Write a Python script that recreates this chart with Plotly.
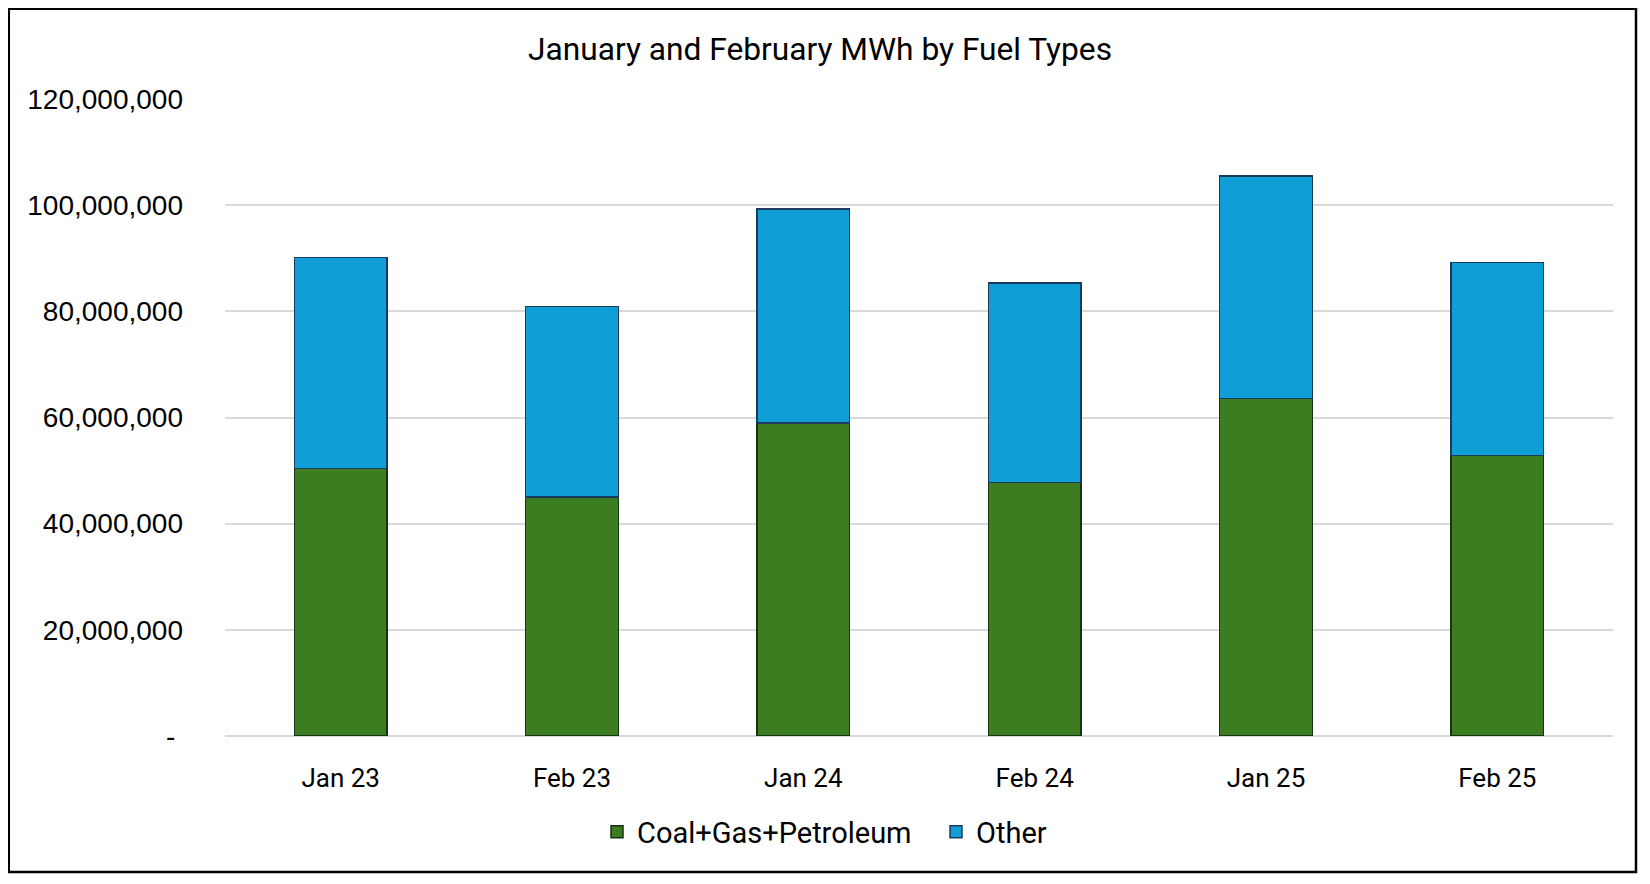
import plotly.graph_objects as go

categories = ["Jan 23", "Feb 23", "Jan 24", "Feb 24", "Jan 25", "Feb 25"]
coal_gas_petroleum = [50_400_000, 45_050_000, 59_000_000, 47_750_000, 63_600_000, 52_850_000]
other = [39_750_000, 35_850_000, 40_250_000, 37_600_000, 41_900_000, 36_350_000]
y_tickvals = [0, 20_000_000, 40_000_000, 60_000_000, 80_000_000, 100_000_000, 120_000_000]
y_ticktext = ["-\u00a0", "20,000,000", "40,000,000", "60,000,000", "80,000,000", "100,000,000", "120,000,000"]

GREEN = "#3C7D22"
BLUE = "#0F9ED5"

fig = go.Figure()
fig.add_trace(go.Bar(
    x=categories, y=coal_gas_petroleum, name="Coal+Gas+Petroleum",
    marker=dict(color=GREEN, line=dict(color="#173410", width=1.5)),
    width=0.4,
))
fig.add_trace(go.Bar(
    x=categories, y=other, name="Other",
    marker=dict(color=BLUE, line=dict(color="#1B3A5E", width=1.5)),
    width=0.4,
))

W, H = 1650, 884
# page body offsets the figure by 8px; positions below are figure-relative
L, R, T, B = 217, 45, 91, 156
pw, ph = W - L - R, H - T - B

fig.update_layout(
    width=W, height=H,
    barmode="stack",
    plot_bgcolor="white", paper_bgcolor="white",
    margin=dict(l=L, r=R, t=T, b=B, pad=0),
    title=dict(
        text="January and February MWh by Fuel Types",
        x=812 / W, xref="container", xanchor="center",
        y=1 - 40.5 / H, yref="container", yanchor="middle",
        font=dict(family="Roboto, sans-serif", size=31.7, color="#000000"),
    ),
    showlegend=True,
    legend=dict(
        orientation="h", traceorder="normal",
        x=928 / W, xref="container", xanchor="center",
        y=1 - 824 / H, yref="container", yanchor="middle",
        font=dict(family="Roboto, sans-serif", size=29, color="#000000"),
        itemwidth=30,
        entrywidth=294, entrywidthmode="pixels",
    ),
    xaxis=dict(
        showgrid=False, showline=False, ticks="",
        tickfont=dict(family="Roboto, sans-serif", size=26, color="#000000"),
        ticklabelstandoff=24,
    ),
    yaxis=dict(
        range=[0, 120_000_000],
        tickvals=y_tickvals, ticktext=y_ticktext,
        showgrid=True, gridcolor="#D9D9D9", gridwidth=1.5,
        zeroline=True, zerolinecolor="#D9D9D9", zerolinewidth=1.5,
        showline=False, ticks="",
        tickfont=dict(family="Liberation Sans, Arial, sans-serif", size=28, color="#000000"),
        ticklabelstandoff=41,
    ),
    shapes=[dict(
        type="rect", xref="paper", yref="paper",
        x0=(0.8 - L) / pw, x1=(1628 - L) / pw,
        y0=(H - B - 864) / ph, y1=(H - B - 0.8) / ph,
        line=dict(color="#000000", width=2.5), fillcolor="rgba(0,0,0,0)",
        layer="below",
    )],
)

fig.write_html("out.html")
